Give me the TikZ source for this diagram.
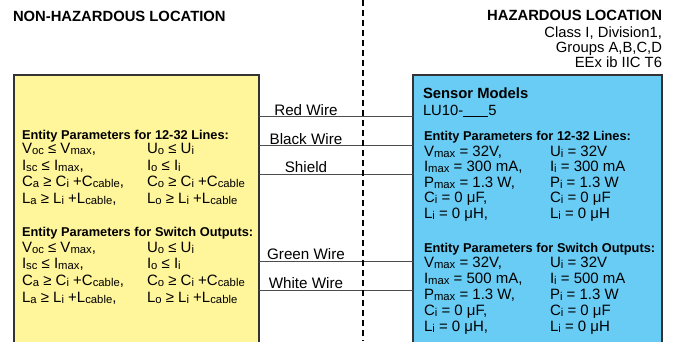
\documentclass[tikz,border=0pt]{standalone}
\usepackage{fontspec}
\setmainfont{Liberation Sans}
\usetikzlibrary{positioning}
\definecolor{hostyellow}{RGB}{255,245,155}
\definecolor{sensorblue}{RGB}{104,204,244}
\newcommand{\lo}[1]{\raisebox{-1pt}{\fontsize{11.3}{11}\selectfont #1}}
\newcommand{\hostrows}[3]{%
  \foreach \k/\lt/\rt in {0/{V\lo{oc} ≤ V\lo{max},}/{U\lo{o} ≤ U\lo{i}},
      1/{I\lo{sc} ≤ I\lo{max},}/{I\lo{o} ≤ I\lo{i}},
      2/{C\lo{a} ≥ C\lo{i} +C\lo{cable},}/{C\lo{o} ≥ C\lo{i} +C\lo{cable}},
      3/{L\lo{a} ≥ L\lo{i} +L\lo{cable},}/{L\lo{o} ≥ L\lo{i} +L\lo{cable}}} {
    \node [param] (#1l\k) at (22, #2+#3*\k) {\lt};
    \node [param] (#1r\k) at (147, #2+#3*\k) {\rt};
  }}
\newcommand{\sensorrows}[4]{%
  \foreach \k/\lt/\rt in {0/{V\lo{max} = 32V,}/{U\lo{i} = 32V},
      1/{I\lo{max} = #4 mA,}/{I\lo{i} = #4 mA},
      2/{P\lo{max} = 1.3 W,}/{P\lo{i} = 1.3 W},
      3/{C\lo{i} = 0 μF,}/{C\lo{i} = 0 μF},
      4/{L\lo{i} = 0 μH,}/{L\lo{i} = 0 μH}} {
    \node [param] (#1l\k) at (424, #2+#3*\k) {\lt};
    \node [param] (#1r\k) at (550, #2+#3*\k) {\rt};
  }}
\begin{document}
\begin{tikzpicture}[x=1pt, y=-1pt,
        every node/.style={inner sep=0pt, outer sep=0pt},
        title/.style={font=\fontsize{14.8}{16}\selectfont\bfseries},
        note/.style={font=\fontsize{14.8}{16}\selectfont, anchor=base east},
        header/.style={font=\fontsize{12.8}{14}\selectfont\bfseries, anchor=base west},
        param/.style={font=\fontsize{15}{16}\selectfont, anchor=base west},
        panel/.style={draw=black!80, line width=1.2pt, anchor=north west, minimum height=300pt},
        wire/.style={draw=black!70, line width=1pt},
        wlabel/.style={font=\fontsize{15.2}{16}\selectfont, above=1pt, pos=0.305},
        divider/.style={draw=black, line width=1.8pt, dash pattern=on 6pt off 4pt}]
    \useasboundingbox (0,0) rectangle (675,341);
    \clip (0,0) rectangle (675,341);
    \node [title, anchor=base west] (nonhaz) at (13,21) {NON-HAZARDOUS LOCATION};
    \node [title, anchor=base east] (haz) at (662,20) {HAZARDOUS LOCATION};
    \node [note] (cls) at (662,37) {Class I, Division1,};
    \node [note] (grp) at (662,52) {Groups A,B,C,D};
    \node [note] (eex) at (662,67) {EEx ib IIC T6};
    \node [panel, fill=hostyellow, minimum width=245pt] (host) at (14,75) {};
    \node [panel, fill=sensorblue, minimum width=249pt] (sensor) at (413,75) {};
    \node [header] (hlines) at (22,139.5) {Entity Parameters for 12-32 Lines:};
    \hostrows{hlines}{153.5}{16.6}
    \node [header] (hswitch) at (22,236) {Entity Parameters for Switch Outputs:};
    \hostrows{hswitch}{252}{16.8}
    \node [title, anchor=base west] (models) at (423,98) {Sensor Models};
    \node [note, anchor=base west] (lu) at (423,115) {LU10-\underline{\hspace{25pt}}5};
    \node [header] (slines) at (424,140) {Entity Parameters for 12-32 Lines:};
    \sensorrows{slines}{156}{15.6}{300}
    \node [header] (sswitch) at (424,252) {Entity Parameters for Switch Outputs:};
    \sensorrows{sswitch}{267.5}{16.1}{500}
    \foreach \name/\y/\txt in {red/116.5/Red Wire, black/145.5/Black Wire, shield/174/Shield,
            green/261/Green Wire, white/290/White Wire} {
        \coordinate (\name) at (0,\y);
        \draw [wire] (host.east |- \name) -- node [wlabel] {\txt} (sensor.west |- \name);
    }
    \coordinate (dtop) at (363,0);
    \coordinate (dbot) at (363,341);
    \draw [divider] (dtop) -- (dbot);
\end{tikzpicture}
\end{document}
